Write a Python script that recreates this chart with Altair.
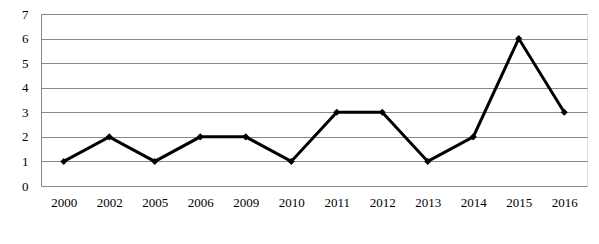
import altair as alt
import pandas as pd

years = ["2000", "2002", "2005", "2006", "2009", "2010", "2011", "2012", "2013", "2014", "2015", "2016"]
values = [1, 2, 1, 2, 2, 1, 3, 3, 1, 2, 6, 3]

df = pd.DataFrame({"year": years, "value": values})

x = alt.X("year:N", sort=years, title=None,
          scale=alt.Scale(paddingInner=0, paddingOuter=0),
          axis=alt.Axis(labelAngle=0, ticks=False, domain=False, labelPadding=10,
                        labelFont="Liberation Serif", labelFontSize=13, labelColor="#000000"))
y = alt.Y("value:Q", title=None,
          scale=alt.Scale(domain=[0, 7], nice=False),
          axis=alt.Axis(values=list(range(0, 8)), ticks=False, domain=True, domainColor="#888888",
                        gridColor="#888888", gridWidth=1, labelPadding=13,
                        labelFont="Liberation Serif", labelFontSize=13, labelColor="#000000"))

line = alt.Chart(df).mark_line(color="#000000", strokeWidth=3).encode(x=x, y=y)
pts = alt.Chart(df).mark_point(shape="diamond", filled=True, color="#000000", size=50, opacity=1).encode(x=x, y=y)

chart = alt.layer(line, pts).properties(
    width=546, height=172,
    autosize=alt.AutoSizeParams(type="none"),
    padding={"left": 33, "top": 6, "right": 2, "bottom": 40},
).configure_view(stroke=None).configure(background="#ffffff")

chart.save("out.html", embed_options={"renderer": "svg", "actions": False})
